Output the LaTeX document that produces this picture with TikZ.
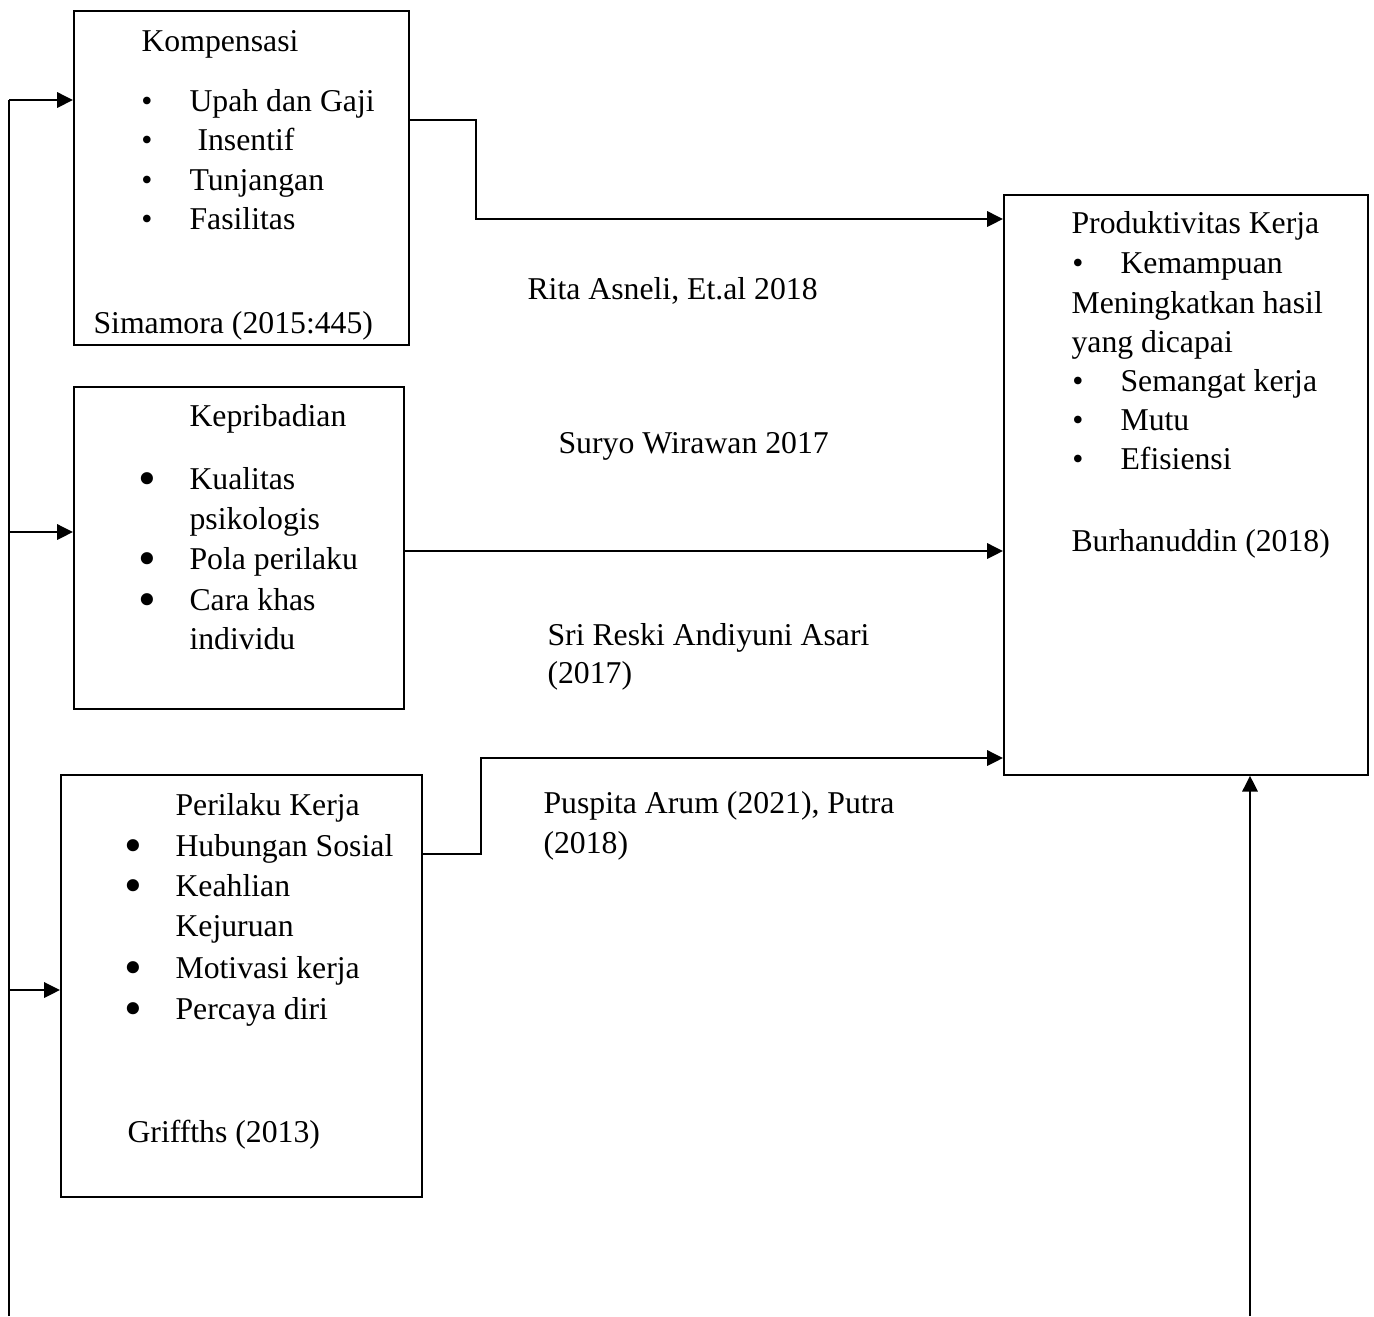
\documentclass[tikz,border=0pt]{standalone}
\usepackage{fontspec}
\setmainfont{Liberation Serif}
\usetikzlibrary{arrows.meta,positioning}

\def\s{0.378pt}
\tikzset{
    box/.style={draw, line width=0.65pt, anchor=north west, inner sep=0pt},
    txt/.style={anchor=base west, inner sep=0pt, font=\fontsize{12}{15}\selectfont},
    dot/.style={anchor=base, inner sep=0pt, font=\fontsize{12}{15}\selectfont},
    bigdot/.style={anchor=base, inner sep=0pt, font=\fontsize{12}{12}\selectfont},
    line/.style={line width=0.8pt},
    link/.style={line width=0.8pt, -{Triangle[length=6pt,width=5.8pt]}},
}
\newcommand{\bigbul}{\raisebox{-2.4pt}{\scalebox{1.6}{•}}}

\begin{document}
\begin{tikzpicture}[x=\s, y=-\s]
    \useasboundingbox (0,0) rectangle (1374,1316);

    % boxes
    \node[box, minimum width=335*\s, minimum height=334*\s] (komp) at (73,10) {};
    \node[box, minimum width=330*\s, minimum height=322*\s] (kepr) at (73,386) {};
    \node[box, minimum width=361*\s, minimum height=422*\s] (peri) at (60,774) {};
    \node[box, minimum width=364*\s, minimum height=580*\s] (prod) at (1003,194) {};

    % Kompensasi
    \node[txt] (komp-head) at (141,51) {Kompensasi};
    \foreach \x/\y/\t [count=\i] in {189/111/Upah dan Gaji, 197/150/Insentif, 189/190/Tunjangan, 189/229/Fasilitas} {
        \node[dot] (komp-b\i) at (147,\y) {•};
        \node[txt] (komp-\i) at (\x,\y) {\t};
    }
    \node[txt] (komp-src) at (93,333) {Simamora (2015:445)};

    % Kepribadian
    \node[txt] (kepr-head) at (189,426) {Kepribadian};
    \foreach \y in {489,569,610} \node[bigdot] at (147,\y) {\bigbul};
    \foreach \y/\t [count=\i] in {489/Kualitas, 529/psikologis, 569/Pola perilaku, 610/Cara khas, 649/individu}
        \node[txt] (kepr-\i) at (189,\y) {\t};

    % Perilaku Kerja
    \node[txt] (peri-head) at (175,815) {Perilaku Kerja};
    \foreach \y in {856,896,978,1019} \node[bigdot] at (133,\y) {\bigbul};
    \foreach \y/\t [count=\i] in {856/Hubungan Sosial, 896/Keahlian, 936/Kejuruan, 978/Motivasi kerja, 1019/Percaya diri}
        \node[txt] (peri-\i) at (175,\y) {\t};
    \node[txt] (peri-src) at (127,1142) {Griffths (2013)};

    % Produktivitas Kerja
    \foreach \y in {273,391,430,469} \node[dot] at (1078,\y) {•};
    \foreach \x/\y/\t [count=\i] in {1071/233/Produktivitas Kerja, 1120/273/Kemampuan, 1071/313/Meningkatkan hasil, 1071/352/yang dicapai, 1120/391/Semangat kerja, 1120/430/Mutu, 1120/469/Efisiensi}
        \node[txt] (prod-\i) at (\x,\y) {\t};
    \node[txt] (prod-src) at (1071,551) {Burhanuddin (2018)};

    % references on the links
    \node[txt] (rita) at (527,299) {Rita Asneli, Et.al 2018};
    \node[txt] (suryo) at (558,453) {Suryo Wirawan 2017};
    \node[txt] (sri) at (547,645) {Sri Reski Andiyuni Asari};
    \node[txt] (sri-yr) at (547,683) {(2017)};
    \node[txt] (pusp) at (543,813) {Puspita Arum (2021), Putra};
    \node[txt] (pusp-yr) at (543,853) {(2018)};

    % links to Produktivitas Kerja
    \draw[link] (komp.east |- 0,120) -| (476,219) -- (prod.west |- 0,219);
    \draw[link] (kepr.east |- 0,551) -- (prod.west |- 0,551);
    \draw[link] (peri.east |- 0,854) -| (481,758) -- (prod.west |- 0,758);

    % feedback lines
    \coordinate (fb-1) at (9,100);
    \coordinate (fb-2) at (9,532);
    \coordinate (fb-3) at (9,990);
    \coordinate (fb-bot) at (9,1316);
    \coordinate (fb-r) at (1250,1316);
    \draw[line] (fb-bot) -- (fb-1);
    \draw[link] (fb-1) -- (fb-1 -| komp.west);
    \draw[link] (fb-2) -- (fb-2 -| kepr.west);
    \draw[link] (fb-3) -- (fb-3 -| peri.west);
    \draw[link] (fb-r) -- (fb-r |- prod.south);
\end{tikzpicture}
\end{document}
